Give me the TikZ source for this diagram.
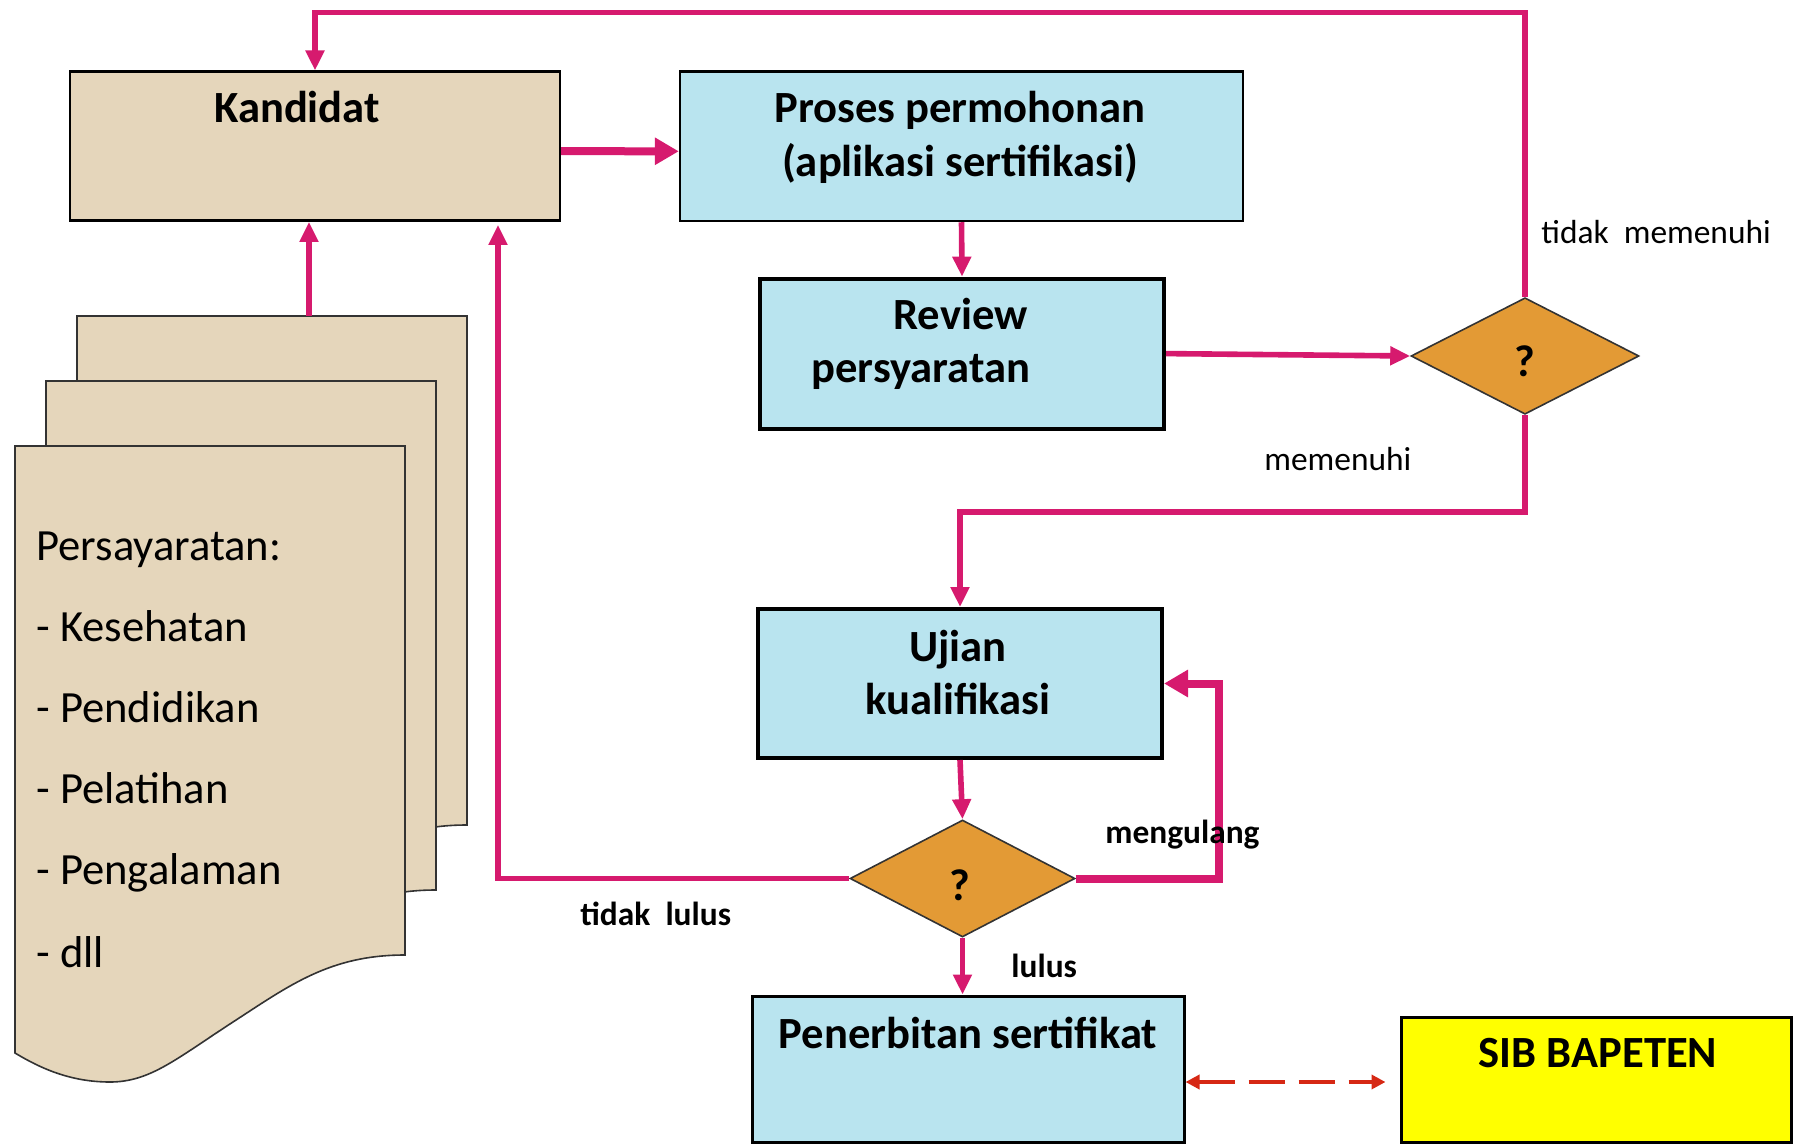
\documentclass[tikz,border=0pt]{standalone}
\usepackage{fontspec}
\setmainfont{Carlito}
\usetikzlibrary{shapes.geometric,arrows.meta}
\definecolor{pinkline}{RGB}{214,26,110}
\definecolor{tanfill}{RGB}{229,214,187}
\definecolor{lblue}{RGB}{185,228,239}
\definecolor{dorange}{RGB}{227,154,53}
\definecolor{sibyellow}{RGB}{255,255,0}
\definecolor{dashred}{RGB}{214,40,20}
\newcommand\bigfont{\fontsize{22.3pt}{27pt}\selectfont}
\newcommand\smallfont{\fontsize{16.7pt}{20pt}\selectfont}
\begin{document}
\begin{tikzpicture}[x=0.5pt,y=-0.5pt,
 box/.style={rectangle, draw=black, line width=1.5pt, inner sep=0pt},
 bluebox/.style={box, fill=lblue},
 decision/.style={diamond, draw=black!80, fill=dorange, line width=0.8pt, inner sep=0pt},
 flow/.style={draw=pinkline, line width=2.8pt, -{Triangle[length=10pt,width=9pt]}},
 thickflow/.style={draw=pinkline, line width=4pt, -{Triangle[length=12pt,width=13pt]}},
 dashlink/.style={draw=dashred, line width=2.2pt, dash pattern=on 18pt off 7pt, {Triangle[length=7pt,width=7pt]}-{Triangle[length=7pt,width=7pt]}},
 boxtext/.style={font=\bigfont\bfseries, inner sep=0pt, anchor=base},
 listtext/.style={font=\bigfont, inner sep=0pt, anchor=base west},
 lbl/.style={font=\smallfont, inner sep=0pt, anchor=base west},
 lblb/.style={font=\smallfont\bfseries, inner sep=0pt, anchor=base west},
 page/.style={fill=tanfill, draw=black!80, line width=0.8pt},
]
\useasboundingbox (0,0) rectangle (1793,1144);

% stacked document pages
\begin{scope}[shift={(62,-130)}]
\path[page] (15,446) -- (405,446) -- (405,955) .. controls (330,955) and (290,985) .. (233,1022) .. controls (176,1059) and (150,1082) .. (110,1082) .. controls (70,1082) and (40,1068) .. (15,1053) -- cycle;
\end{scope}
\begin{scope}[shift={(31,-65)}]
\path[page] (15,446) -- (405,446) -- (405,955) .. controls (330,955) and (290,985) .. (233,1022) .. controls (176,1059) and (150,1082) .. (110,1082) .. controls (70,1082) and (40,1068) .. (15,1053) -- cycle;
\end{scope}
\path[page] (15,446) -- (405,446) -- (405,955) .. controls (330,955) and (290,985) .. (233,1022) .. controls (176,1059) and (150,1082) .. (110,1082) .. controls (70,1082) and (40,1068) .. (15,1053) -- cycle;
\coordinate (docs) at (309,316);

% boxes
\node[box, fill=tanfill, line width=1.2pt, minimum width=245pt, minimum height=74.5pt] (kand) at (315,146.2) {};
\node[bluebox, line width=1.2pt, minimum width=281.5pt, minimum height=74.75pt] (proses) at (961.5,146.3) {};
\node[bluebox, line width=2pt, minimum width=202pt, minimum height=75pt] (review) at (962,353.6) {};
\node[decision, minimum width=114pt, minimum height=58.25pt] (d1) at (1525,356) {};
\node[bluebox, line width=2pt, minimum width=202pt, minimum height=74.5pt] (ujian) at (960,683.5) {};
\node[decision, minimum width=112.5pt, minimum height=58.5pt] (d2) at (962.5,878.5) {};
\node[bluebox, line width=1.5pt, minimum width=216pt, minimum height=73pt] (pener) at (968,1069) {};
\node[box, fill=sibyellow, minimum width=195pt, minimum height=62.5pt] (sib) at (1596,1079.5) {};

% helper coordinates
\coordinate (topline) at (0,12.6);
\coordinate (midline) at (0,512);
\coordinate (loopx) at (1219,0);
\coordinate (retx) at (498,0);
\coordinate (dashy) at (0,1082);

% connectors
\draw[thickflow] ([yshift=-2.5pt]kand.east) -- ([yshift=-2.5pt]proses.west);
\draw[flow] (docs) -- (docs |- kand.south);
\draw[flow] (proses.south) -- (review.north);
\draw[flow] (review.east) -- (d1.west);
\draw[flow] (d1.north) |- (kand.north |- topline) -- (kand.north);
\draw[flow] (d1.south) |- (ujian.north |- midline) -- (ujian.north);
\draw[flow] (ujian.south) -- (d2.north);
\draw[thickflow] (d2.east) -| (loopx |- ujian.east) -- (ujian.east);
\draw[flow, shorten >=1.5pt] (d2.west) -| (retx |- kand.south);
\draw[flow] (d2.south) -- (d2.south |- pener.north);
\draw[dashlink, shorten >=7pt] (pener.east |- dashy) -- (sib.west |- dashy);

% box texts
\node[boxtext] (tkand) at (297,123) {Kandidat};
\node[boxtext] (tpro1) at (960,123) {Proses permohonan};
\node[boxtext] (tpro2) at (960,177) {(aplikasi sertifikasi)};
\node[boxtext, anchor=base west] (trev1) at (893,330) {Review};
\node[boxtext, anchor=base west] (trev2) at (811,383) {persyaratan};
\node[boxtext] (tuj1) at (958,661.7) {Ujian};
\node[boxtext] (tuj2) at (958,714.8) {kualifikasi};
\node[boxtext] (tpen) at (968,1048) {Penerbitan sertifikat};
\node[boxtext] (tsib) at (1598,1067) {SIB BAPETEN};
\node[boxtext] (q1) at (1525,377) {?};
\node[boxtext] (q2) at (960,900) {?};

% list on document
\node[listtext] (l0) at (36,560.6) {Persayaratan:};
\node[listtext] (l1) at (36,641) {- Kesehatan};
\node[listtext] (l2) at (36,722) {- Pendidikan};
\node[listtext] (l3) at (36,803) {- Pelatihan};
\node[listtext] (l4) at (36,884.5) {- Pengalaman};
\node[listtext] (l5) at (36,967) {- dll};

% connector labels
\node[lbl] (ltm) at (1541,244) {tidak\ \ memenuhi};
\node[lbl] (lm) at (1264,470) {memenuhi};
\node[lblb] (ltl) at (580,925) {tidak\ \ lulus};
\node[lblb] (lmg) at (1105,843.5) {mengulang};
\node[lblb] (ll) at (1011,977) {lulus};
\end{tikzpicture}
\end{document}
